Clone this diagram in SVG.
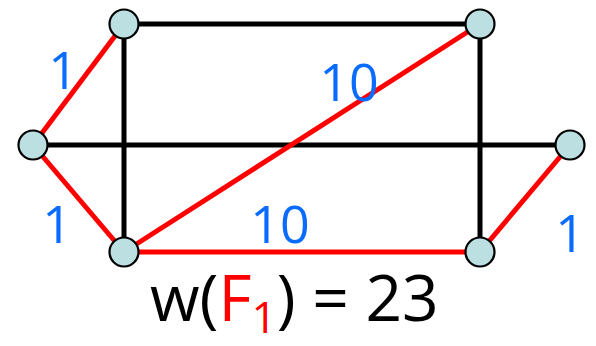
<svg xmlns="http://www.w3.org/2000/svg" width="596" height="346" viewBox="0 0 596 346">
<style>
.e{stroke-width:5;fill:none;stroke-linecap:butt}
.k{stroke:#000}
.r{stroke:#ff0000}
.n{fill:#bcdfe2;stroke:#000;stroke-width:2.2}
.w{font-family:"Comic Sans MS","Open Sans","Liberation Sans",sans-serif;fill:#0a6cff;font-size:52px;text-anchor:middle}
.t{font-family:"Comic Sans MS","Open Sans","Liberation Sans",sans-serif;font-size:64px;fill:#000}
</style>
<rect width="596" height="346" fill="#fff"/>
<g id="edges">
<line class="e k" x1="124" y1="24" x2="480" y2="24"/>
<line class="e k" x1="33" y1="145" x2="570" y2="145"/>
<line class="e k" x1="124" y1="24" x2="124" y2="252"/>
<line class="e k" x1="480" y1="24" x2="480" y2="252"/>
<line class="e r" x1="124" y1="24" x2="33" y2="145"/>
<line class="e r" x1="33" y1="145" x2="124" y2="252"/>
<line class="e r" x1="124" y1="252" x2="480" y2="24"/>
<line class="e r" x1="124" y1="252" x2="480" y2="252"/>
<line class="e r" x1="480" y1="252" x2="570" y2="145"/>
</g>
<g id="n1"><circle class="n" cx="124" cy="24" r="14.5"/></g>
<g id="n2"><circle class="n" cx="480" cy="24" r="14.5"/></g>
<g id="n3"><circle class="n" cx="33" cy="145" r="14.5"/></g>
<g id="n4"><circle class="n" cx="570" cy="145" r="14.5"/></g>
<g id="n5"><circle class="n" cx="124" cy="252" r="14.5"/></g>
<g id="n6"><circle class="n" cx="480" cy="252" r="14.5"/></g>
<g id="labels">
<text class="w" x="63" y="89">1</text>
<text class="w" x="349" y="101">10</text>
<text class="w" x="57" y="243">1</text>
<text class="w" x="280" y="243">10</text>
<text class="w" x="570" y="252">1</text>
</g>
<text class="t" x="150" y="321">w(<tspan fill="#ff0000">F</tspan><tspan fill="#ff0000" font-size="44" dy="12">1</tspan><tspan dy="-12">) = 23</tspan></text>
</svg>
